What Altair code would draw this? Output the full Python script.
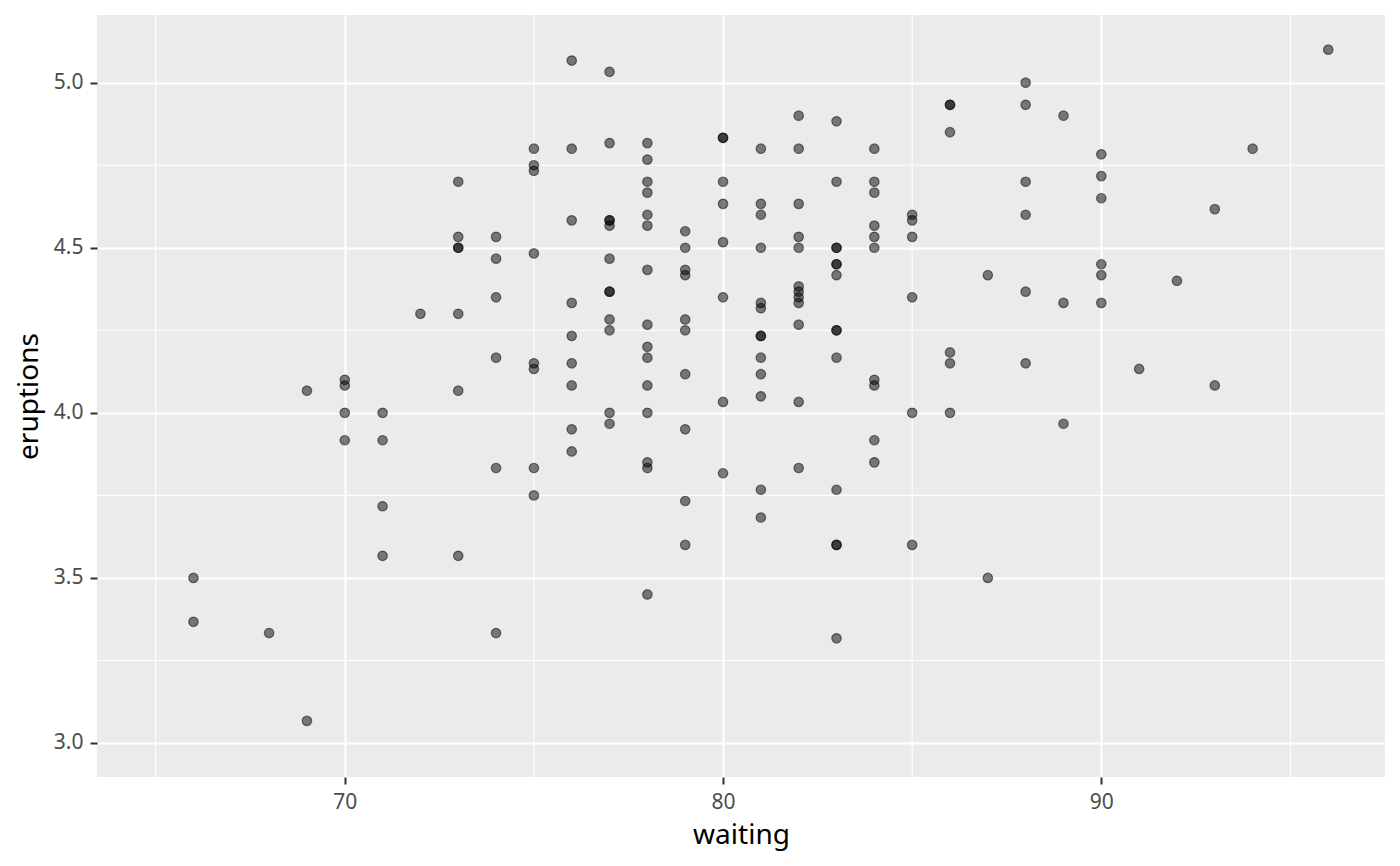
import altair as alt
import pandas as pd

# faithful: waiting (min) vs eruptions (min)
waiting = (
    [66, 66]
    + [68]
    + [69, 69]
    + [70] * 4
    + [71] * 4
    + [72]
    + [73] * 7
    + [74] * 6
    + [75] * 8
    + [76] * 9
    + [77] * 12
    + [78] * 15
    + [79] * 10
    + [80] * 8
    + [81] * 13
    + [82] * 12
    + [83] * 14
    + [84] * 10
    + [85] * 6
    + [86] * 6
    + [87] * 2
    + [88] * 6
    + [89] * 3
    + [90] * 6
    + [91]
    + [92]
    + [93, 93]
    + [94]
    + [96]
)
eruptions = [
    3.5, 3.367,
    3.333,
    4.067, 3.067,
    4.1, 4.083, 4.0, 3.917,
    4.0, 3.917, 3.717, 3.567,
    4.3,
    4.7, 4.533, 4.5, 4.5, 4.3, 4.067, 3.567,
    4.533, 4.467, 4.35, 4.167, 3.833, 3.333,
    4.8, 4.75, 4.733, 4.483, 4.15, 4.133, 3.833, 3.75,
    5.067, 4.8, 4.583, 4.333, 4.233, 4.15, 4.083, 3.95, 3.883,
    5.033, 4.817, 4.583, 4.583, 4.567, 4.467, 4.367, 4.367, 4.283, 4.25, 4.0, 3.967,
    4.817, 4.767, 4.7, 4.667, 4.6, 4.567, 4.433, 4.267, 4.2, 4.167, 4.083, 4.0, 3.85, 3.833, 3.45,
    4.55, 4.5, 4.433, 4.417, 4.283, 4.25, 4.117, 3.95, 3.733, 3.6,
    4.833, 4.833, 4.7, 4.633, 4.517, 4.35, 4.033, 3.817,
    4.8, 4.633, 4.6, 4.5, 4.333, 4.317, 4.233, 4.233, 4.167, 4.117, 4.05, 3.767, 3.683,
    4.9, 4.8, 4.633, 4.533, 4.5, 4.383, 4.367, 4.35, 4.333, 4.267, 4.033, 3.833,
    4.883, 4.7, 4.5, 4.5, 4.45, 4.45, 4.417, 4.25, 4.25, 4.167, 3.767, 3.6, 3.6, 3.317,
    4.8, 4.7, 4.667, 4.567, 4.533, 4.5, 4.1, 4.083, 3.917, 3.85,
    4.6, 4.583, 4.533, 4.35, 4.0, 3.6,
    4.933, 4.933, 4.85, 4.183, 4.15, 4.0,
    4.417, 3.5,
    5.0, 4.933, 4.7, 4.6, 4.367, 4.15,
    4.9, 4.333, 3.967,
    4.783, 4.717, 4.65, 4.45, 4.417, 4.333,
    4.133,
    4.4,
    4.617, 4.083,
    4.8,
    5.1,
]

x_breaks = [70, 80, 90]
x_minor = [65, 75, 85, 95]
y_breaks = [3.0, 3.5, 4.0, 4.5, 5.0]
y_minor = [3.25, 3.75, 4.25, 4.75]

df = pd.DataFrame({"waiting": waiting, "eruptions": eruptions})

x_scale = alt.Scale(domain=[63.45, 97.5], nice=False, zero=False)
y_scale = alt.Scale(domain=[2.897, 5.205], nice=False, zero=False)

x_axis = alt.Axis(
    values=x_breaks, title="waiting", grid=True, gridColor="white", gridWidth=2.1,
    domain=False, tickColor="#333333", tickWidth=2, tickSize=7,
    labelColor="#4D4D4D", labelFontSize=21, labelPadding=7,
    titleFontSize=28, titleColor="black", titleFontWeight="normal", titlePadding=9,
    labelFont="Noto Sans", titleFont="Noto Sans",
)
y_axis = alt.Axis(
    values=y_breaks, title="eruptions", grid=True, gridColor="white", gridWidth=2.1,
    domain=False, tickColor="#333333", tickWidth=2, tickSize=7,
    labelColor="#4D4D4D", labelFontSize=21, labelPadding=7, format=".1f",
    titleFontSize=28, titleColor="black", titleFontWeight="normal", titlePadding=10,
    labelFont="Noto Sans", titleFont="Noto Sans",
)

minor_x = (
    alt.Chart(pd.DataFrame({"v": x_minor}))
    .mark_rule(color="white", strokeWidth=1.05)
    .encode(x=alt.X("v:Q", scale=x_scale, axis=x_axis))
)
minor_y = (
    alt.Chart(pd.DataFrame({"v": y_minor}))
    .mark_rule(color="white", strokeWidth=1.05)
    .encode(y=alt.Y("v:Q", scale=y_scale, axis=y_axis))
)

points = (
    alt.Chart(df)
    .mark_circle(
        size=90, fill="black", fillOpacity=0.5,
        stroke="black", strokeOpacity=0.5, strokeWidth=1.2,
    )
    .encode(
        x=alt.X("waiting:Q", scale=x_scale, axis=x_axis),
        y=alt.Y("eruptions:Q", scale=y_scale, axis=y_axis),
    )
)

chart = (
    alt.layer(minor_x, minor_y, points)
    .properties(
        width=1288,
        height=762,
        autosize=alt.AutoSizeParams(type="none"),
        padding={"left": 89, "top": 7, "right": 7, "bottom": 81},
        background="white",
    )
    .configure_view(fill="#EBEBEB", stroke=None)
)

chart.save("out.html", embed_options={"renderer": "svg", "actions": False})
